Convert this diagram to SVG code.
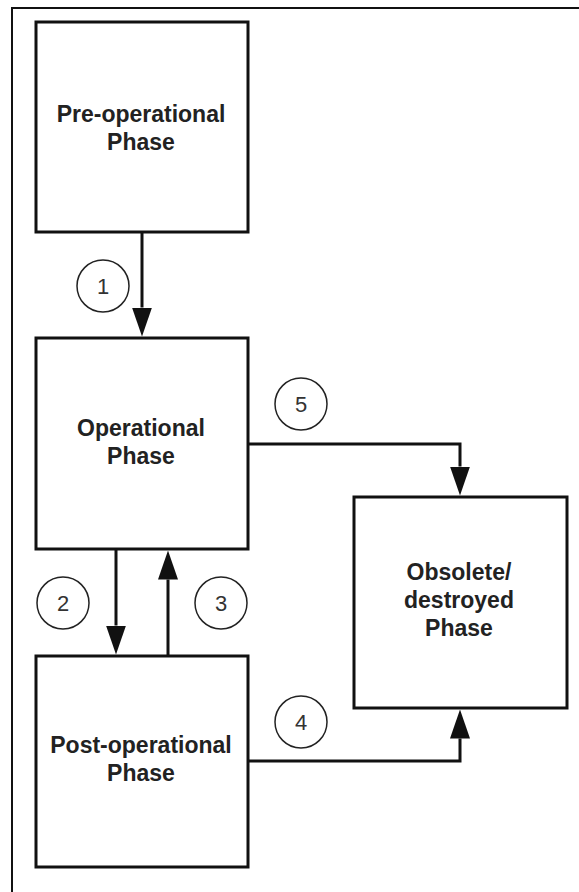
<svg xmlns="http://www.w3.org/2000/svg" width="579" height="892" viewBox="0 0 579 892">
  <style>
    .box { fill: #ffffff; stroke: #111111; stroke-width: 3; }
    .lbl { font-family: "Liberation Sans", Arial, sans-serif; font-weight: bold; font-size: 23px; fill: #222222; text-anchor: middle; }
    .num { fill: #ffffff; stroke: #222222; stroke-width: 1.5; }
    .numt { font-family: "Liberation Sans", Arial, sans-serif; font-size: 22px; fill: #333333; text-anchor: middle; }
    .conn { fill: none; stroke: #111111; stroke-width: 3; }
    .frame { fill: none; stroke: #111111; stroke-width: 2; }
  </style>
  <defs>
    <marker id="arrow" viewBox="0 0 29 20" refX="0" refY="10" markerWidth="29" markerHeight="20" markerUnits="userSpaceOnUse" orient="auto">
      <path d="M0,0 L29,10 L0,20 Z" fill="#111111"/>
    </marker>
  </defs>
  <rect x="0" y="0" width="579" height="892" fill="#ffffff"/>
  <path class="frame" d="M12,892 V8 H579"/>

  <g id="connectors">
    <line class="conn" x1="142" y1="232" x2="142" y2="307.5" marker-end="url(#arrow)"/>
    <line class="conn" x1="116" y1="549" x2="116" y2="625.5" marker-end="url(#arrow)"/>
    <line class="conn" x1="168" y1="656" x2="168" y2="579.5" marker-end="url(#arrow)"/>
    <path class="conn" d="M248,444 H460 V466.5" marker-end="url(#arrow)"/>
    <path class="conn" d="M248,761 H460 V738.5" marker-end="url(#arrow)"/>
  </g>

  <g id="pre-operational">
    <rect class="box" x="36" y="22" width="212" height="210"/>
    <text class="lbl" x="141" y="122">Pre-operational</text>
    <text class="lbl" x="141" y="150">Phase</text>
  </g>
  <g id="operational">
    <rect class="box" x="36" y="338" width="212" height="211"/>
    <text class="lbl" x="141" y="436">Operational</text>
    <text class="lbl" x="141" y="464">Phase</text>
  </g>
  <g id="post-operational">
    <rect class="box" x="36" y="656" width="212" height="211"/>
    <text class="lbl" x="141" y="753">Post-operational</text>
    <text class="lbl" x="141" y="781">Phase</text>
  </g>
  <g id="obsolete">
    <rect class="box" x="354" y="497" width="213" height="211"/>
    <text class="lbl" x="459" y="580">Obsolete/</text>
    <text class="lbl" x="459" y="608">destroyed</text>
    <text class="lbl" x="459" y="636">Phase</text>
  </g>

  <g id="label-1">
    <circle class="num" cx="103" cy="286" r="26"/>
    <text class="numt" x="103" y="294">1</text>
  </g>
  <g id="label-2">
    <circle class="num" cx="63" cy="603" r="26"/>
    <text class="numt" x="63" y="611">2</text>
  </g>
  <g id="label-3">
    <circle class="num" cx="221" cy="603" r="26"/>
    <text class="numt" x="221" y="611">3</text>
  </g>
  <g id="label-5">
    <circle class="num" cx="301" cy="404" r="26"/>
    <text class="numt" x="301" y="412">5</text>
  </g>
  <g id="label-4">
    <circle class="num" cx="301" cy="722" r="26"/>
    <text class="numt" x="301" y="730">4</text>
  </g>
</svg>
